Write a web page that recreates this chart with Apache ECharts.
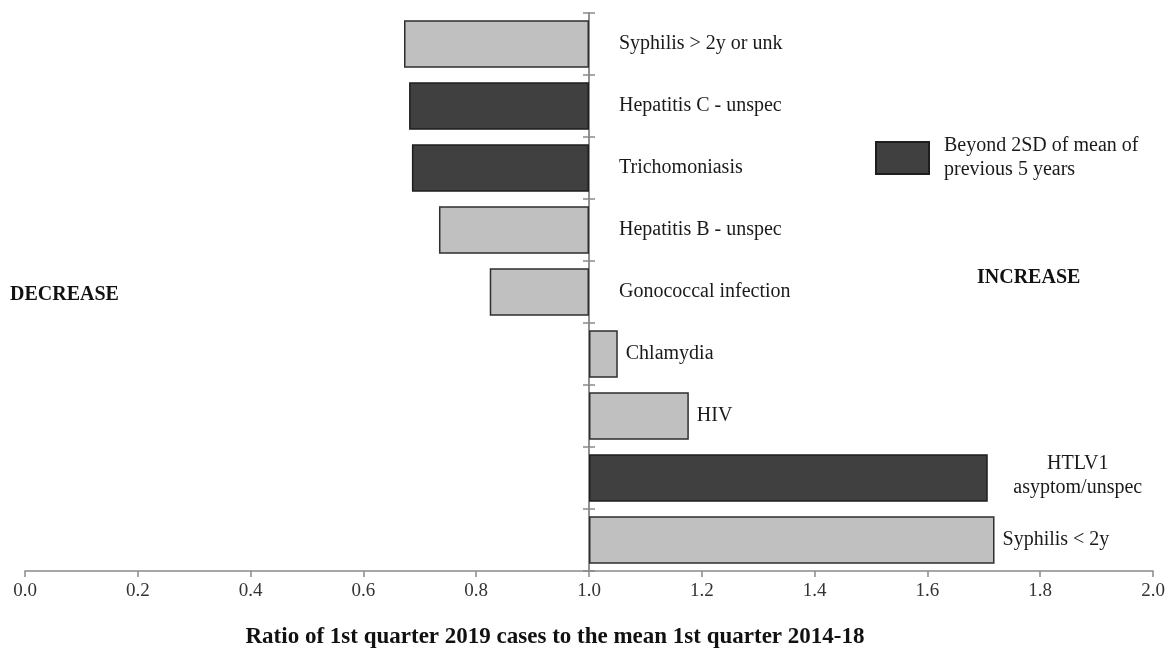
<!DOCTYPE html>
<html>
<head>
<meta charset="utf-8">
<script src="https://cdn.jsdelivr.net/npm/echarts@6/dist/echarts.min.js"></script>
<style>
  html, body { margin: 0; padding: 0; background: #fff; }
  #chart { width: 1176px; height: 652px; }
</style>
</head>
<body>
<div id="chart"></div>
<script>
// Infections, top to bottom
var categories = [
  'Syphilis > 2y or unk',
  'Hepatitis C - unspec',
  'Trichomoniasis',
  'Hepatitis B - unspec',
  'Gonococcal infection',
  'Chlamydia',
  'HIV',
  'HTLV1\nasyptom/unspec',
  'Syphilis < 2y'
];
// Ratio of 1st quarter 2019 cases to the mean 1st quarter 2014-18
var ratios = [0.672, 0.681, 0.686, 0.734, 0.824, 1.051, 1.177, 1.707, 1.719];
// 1 = beyond 2SD of mean of previous 5 years
var beyond2SD = [0, 1, 1, 0, 0, 0, 0, 1, 0];
var xTicks = [0.0, 0.2, 0.4, 0.6, 0.8, 1.0, 1.2, 1.4, 1.6, 1.8, 2.0];

var BASE = 1.0; // bars grow from a ratio of 1
var FONT = "'Liberation Serif', 'Times New Roman', serif";
var LEGEND_NAME = 'Beyond 2SD of mean of\nprevious 5 years';
var AXIS_GREY = '#8a8a8a';

function labelFor(i) {
  var r = ratios[i];
  var lbl = {
    show: true,
    formatter: categories[i],
    position: 'right',
    fontFamily: FONT,
    fontSize: 20,
    color: '#1a1a1a',
    lineHeight: 24
  };
  if (r < BASE) {
    lbl.distance = 30;
  } else if (categories[i].indexOf('\n') >= 0) {
    // two-line label, centred in the space right of the bar
    lbl.distance = 0;
    lbl.align = 'center';
    lbl.offset = [90, -2];
  } else {
    lbl.distance = 8;
  }
  return lbl;
}

function seriesData(flag) {
  return ratios.map(function (r, i) {
    if (beyond2SD[i] !== flag) return '-';
    return { value: r - BASE, label: labelFor(i) };
  });
}

// category axis drawn at ratio 1; two copies give ticks on both sides
function categoryAxis(side) {
  return {
    type: 'category',
    inverse: true,
    data: categories,
    position: side,
    axisLine: { show: true, onZero: true, onZeroAxisIndex: 0, lineStyle: { color: AXIS_GREY, width: 1.5 } },
    axisTick: { show: true, length: 6, lineStyle: { color: AXIS_GREY, width: 1.5 } },
    axisLabel: { show: false },
    splitLine: { show: false }
  };
}

var chart = echarts.init(document.getElementById('chart'));
chart.setOption({
  animation: false,
  backgroundColor: '#ffffff',
  textStyle: { fontFamily: FONT },
  grid: { left: 25, right: 23, top: 13, bottom: 81, containLabel: false, outerBoundsMode: 'none' },
  legend: {
    data: [LEGEND_NAME],
    icon: 'rect',
    left: 875,
    top: 133,
    padding: 0,
    itemWidth: 53,
    itemHeight: 32,
    itemGap: 15,
    selectedMode: false,
    textStyle: { fontFamily: FONT, fontSize: 20, color: '#1a1a1a', lineHeight: 24, padding: [2, 0, 0, 10] }
  },
  xAxis: {
    type: 'value',
    min: xTicks[0] - BASE,
    max: xTicks[xTicks.length - 1] - BASE,
    interval: xTicks[1] - xTicks[0],
    splitLine: { show: false },
    axisLine: { show: true, onZero: false, lineStyle: { color: AXIS_GREY, width: 1.5 } },
    axisTick: { show: true, length: 6, lineStyle: { color: AXIS_GREY, width: 1.5 } },
    axisLabel: {
      margin: 11,
      fontFamily: FONT,
      fontSize: 19,
      color: '#333',
      formatter: function (v) { return (v + BASE).toFixed(1); }
    },
    name: 'Ratio of 1st quarter 2019 cases to the mean 1st quarter 2014-18',
    nameLocation: 'middle',
    nameGap: 55,
    nameTextStyle: { fontFamily: FONT, fontSize: 23, fontWeight: 'bold', color: '#111', padding: [0, 68, 0, 0] }
  },
  yAxis: [categoryAxis('left'), categoryAxis('right')],
  series: [
    {
      name: 'Within 2SD',
      type: 'bar',
      yAxisIndex: 0,
      barWidth: '77%',
      barGap: '-100%',
      data: seriesData(0),
      itemStyle: { color: '#c0c0c0', borderColor: '#2e2e2e', borderWidth: 1.5 },
      z: 3
    },
    {
      name: LEGEND_NAME,
      type: 'bar',
      yAxisIndex: 0,
      barWidth: '77%',
      barGap: '-100%',
      data: seriesData(1),
      itemStyle: { color: '#404040', borderColor: '#1e1e1e', borderWidth: 1.5 },
      z: 3
    }
  ],
  graphic: [
    {
      type: 'text', left: 10, top: 285,
      style: { text: 'DECREASE', font: "bold 20px " + FONT, fill: '#111' }
    },
    {
      type: 'text', left: 977, top: 268,
      style: { text: 'INCREASE', font: "bold 20px " + FONT, fill: '#111' }
    }
  ]
});
</script>
</body>
</html>
